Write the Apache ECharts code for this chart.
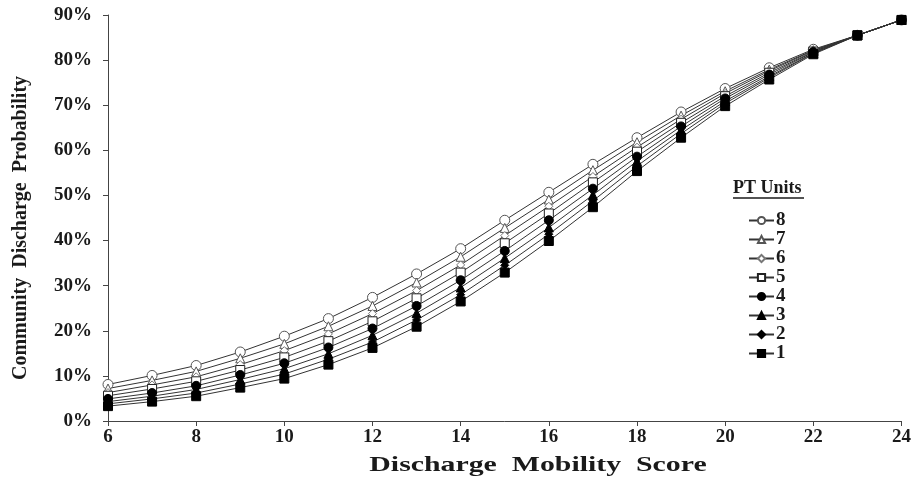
<!DOCTYPE html>
<html>
<head>
<meta charset="utf-8">
<script src="https://cdn.jsdelivr.net/npm/echarts@6/dist/echarts.min.js"></script>
<style>
  html, body { margin: 0; padding: 0; background: #fff; }
  #chart { width: 914px; height: 483px; }
</style>
</head>
<body>
<div id="chart"></div>
<script>
// Discharge mobility score (x) and probability (%) of community discharge per PT-unit group
const scores = [6, 7, 8, 9, 10, 11, 12, 13, 14, 15, 16, 17, 18, 19, 20, 21, 22, 23, 24];
const pt8 = [8.1, 10.1, 12.3, 15.3, 18.8, 22.7, 27.4, 32.6, 38.2, 44.5, 50.7, 56.9, 62.8, 68.5, 73.7, 78.3, 82.4, 85.5, 88.9];
const pt7 = [7.2, 9.0, 11.0, 13.9, 17.1, 21.0, 25.5, 30.7, 36.4, 42.8, 49.1, 55.6, 61.8, 67.7, 73.1, 77.9, 82.2, 85.5, 88.9];
const pt6 = [6.3, 8.0, 9.8, 12.5, 15.6, 19.3, 23.8, 28.9, 34.6, 41.1, 47.6, 54.2, 60.7, 66.9, 72.6, 77.6, 82.1, 85.5, 88.9];
const pt5 = [5.6, 7.1, 8.8, 11.3, 14.1, 17.7, 22.1, 27.2, 32.9, 39.4, 46.0, 52.9, 59.7, 66.1, 72.0, 77.2, 81.9, 85.5, 88.9];
const pt4 = [4.9, 6.2, 7.8, 10.2, 12.8, 16.3, 20.5, 25.5, 31.2, 37.7, 44.5, 51.5, 58.6, 65.3, 71.5, 76.8, 81.8, 85.5, 88.9];
const pt3 = [4.3, 5.5, 7.0, 9.2, 11.6, 14.9, 19.0, 23.9, 29.6, 36.1, 42.9, 50.1, 57.6, 64.5, 70.9, 76.4, 81.6, 85.5, 88.9];
const pt2 = [3.8, 4.9, 6.2, 8.2, 10.4, 13.7, 17.5, 22.4, 28.0, 34.5, 41.4, 48.8, 56.5, 63.7, 70.4, 76.1, 81.5, 85.5, 88.9];
const pt1 = [3.3, 4.3, 5.5, 7.4, 9.4, 12.5, 16.2, 20.9, 26.5, 32.9, 39.9, 47.4, 55.4, 62.8, 69.8, 75.7, 81.3, 85.5, 88.9];

const xTicks = [6, 8, 10, 12, 14, 16, 18, 20, 22, 24];
const yTicks = [0, 10, 20, 30, 40, 50, 60, 70, 80, 90];

const FONT = '"Liberation Serif", "Times New Roman", serif';
const INK = '#1a1a1a';

// marker look for each group: [name, values, symbol, size, fill, border]
const groups = [
  ['8', pt8, 'circle',   10, '#ffffff', '#555555'],
  ['7', pt7, 'triangle', 9,  '#ffffff', '#555555'],
  ['6', pt6, 'diamond',  8,  '#ffffff', '#777777'],
  ['5', pt5, 'rect',     9,  '#ffffff', '#222222'],
  ['4', pt4, 'circle',   9,  '#000000', '#000000'],
  ['3', pt3, 'triangle', 9,  '#000000', '#000000'],
  ['2', pt2, 'diamond',  8,  '#000000', '#000000'],
  ['1', pt1, 'rect',     9,  '#000000', '#000000']
];

const series = groups.map(([name, vals, sym, size, fill, border]) => ({
  name: name,
  type: 'line',
  data: scores.map((s, i) => [s, vals[i]]),
  symbol: sym,
  symbolSize: size,
  showAllSymbol: true,
  lineStyle: { color: '#333333', width: 1 },
  itemStyle: { color: fill, borderColor: border, borderWidth: 1 },
  emphasis: { disabled: true }
}));

const chart = echarts.init(document.getElementById('chart'));
chart.setOption({
  animation: false,
  backgroundColor: '#ffffff',
  textStyle: { fontFamily: FONT },
  grid: { left: 108, right: 11, top: 15, bottom: 62, containLabel: false },
  xAxis: {
    type: 'value',
    min: xTicks[0],
    max: xTicks[xTicks.length - 1],
    interval: xTicks[1] - xTicks[0],
    axisLine: { lineStyle: { color: '#444444', width: 1 } },
    axisTick: { show: true, length: 5, lineStyle: { color: '#444444' } },
    axisLabel: { fontFamily: FONT, fontWeight: 'bold', fontSize: 19, color: INK, margin: 7 },
    splitLine: { show: false }
  },
  yAxis: {
    type: 'value',
    min: yTicks[0],
    max: yTicks[yTicks.length - 1],
    interval: yTicks[1] - yTicks[0],
    axisLine: { show: true, lineStyle: { color: '#444444', width: 1 } },
    axisTick: { show: true, length: 5, lineStyle: { color: '#444444' } },
    axisLabel: { formatter: '{value}%', fontFamily: FONT, fontWeight: 'bold', fontSize: 19, color: INK, margin: 16 },
    splitLine: { show: false }
  },
  legend: {
    orient: 'vertical',
    left: 748,
    top: 211,
    padding: 0,
    itemWidth: 25,
    itemHeight: 9,
    itemGap: 0,
    selectedMode: false,
    data: groups.map(g => g[0]),
    textStyle: { fontFamily: FONT, fontWeight: 'bold', fontSize: 19, height: 18.7, lineHeight: 18.7, color: INK, padding: [0, 0, 0, -3] }
  },
  graphic: [
    {
      // x-axis title, drawn wide
      type: 'text',
      x: 538,
      y: 466,
      scaleX: 1.42,
      style: { text: 'Discharge  Mobility  Score', align: 'center', verticalAlign: 'middle',
               fontFamily: FONT, fontWeight: 'bold', fontSize: 21, fill: INK }
    },
    {
      // y-axis title, rotated
      type: 'text',
      x: 21,
      y: 228,
      rotation: Math.PI / 2,
      style: { text: 'Community  Discharge  Probability', align: 'center', verticalAlign: 'middle',
               fontFamily: FONT, fontWeight: 'bold', fontSize: 20, fill: INK }
    },
    {
      type: 'text',
      left: 733,
      top: 179,
      style: { text: 'PT Units', fontFamily: FONT, fontWeight: 'bold', fontSize: 18, fill: INK }
    },
    {
      type: 'line',
      shape: { x1: 733, y1: 198, x2: 804, y2: 198 },
      style: { stroke: INK, lineWidth: 1.5 }
    }
  ],
  series: series
});
</script>
</body>
</html>
